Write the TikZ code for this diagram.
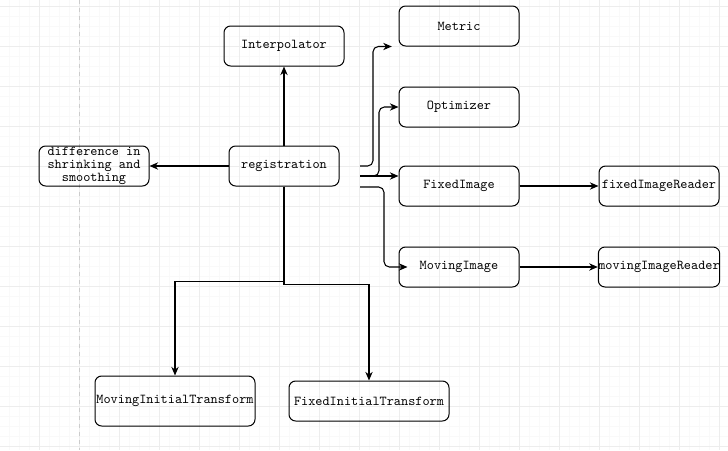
\documentclass[tikz,border=0pt]{standalone}
\usepackage{fontspec}
\usetikzlibrary{arrows.meta}
\tikzset{>={Stealth[length=6.5pt,width=5.5pt]}}
\tikzset{
  box/.style={draw, line width=0.75pt, rounded corners=5pt, minimum width=90pt,
    minimum height=30pt, inner sep=0pt, align=center,
    font=\ttfamily\fontsize{10.2pt}{9.5pt}\selectfont},
  link/.style={->, line width=0.8pt},
}

\begin{document}
\begin{tikzpicture}[x=0.75pt,y=-0.75pt]
  \useasboundingbox (0,0) rectangle (728,450);
  \fill[white] (0,0) rectangle (728,450);
  % grid
  \foreach \i in {-1,9,...,729} \draw[gray!5, line width=0.4pt] (\i,0) -- (\i,450);
  \foreach \j in {6,16,...,446} \draw[gray!5, line width=0.4pt] (0,\j) -- (728,\j);
  \foreach \i in {39,79,...,719} \draw[gray!14, line width=0.5pt] (\i,0) -- (\i,450);
  \foreach \j in {6,46,...,446} \draw[gray!14, line width=0.5pt] (0,\j) -- (728,\j);
  \draw[gray!40, dashed, line width=0.5pt] (79,0) -- (79,450);

  % nodes
  \node[box, minimum width=82.5pt] (reg) at (284,166) {registration};
  \node[box] (interp) at (284,46) {Interpolator};
  \node[box, minimum width=82.5pt] (diff) at (94,166) {difference in\\shrinking and\\smoothing};
  \node[box] (metric) at (459,26) {Metric};
  \node[box] (optim) at (459,107) {Optimizer};
  \node[box] (fixed) at (459,186) {FixedImage};
  \node[box] (moving) at (459,267) {MovingImage};
  \node[box] (fixedReader) at (659,186) {fixedImageReader};
  \node[box] (movingReader) at (659,267) {movingImageReader};
  \node[box, minimum width=120pt, minimum height=37.5pt] (movInit) at (175,401) {MovingInitialTransform};
  \node[box, minimum width=120pt] (fixInit) at (369,401) {FixedInitialTransform};

  \coordinate (o1) at (360,166);
  \coordinate (o2) at (360,176);
  \coordinate (o3) at (360,187);

  % connectors
  \draw[link] (reg.north) -- (interp.south);
  \draw[link] (reg.west) -- (diff.east);
  \draw[link, rounded corners=4pt] (o1) -- ++(13,0) |- ([xshift=-5pt]metric.south west);
  \draw[link, rounded corners=4pt] (o2) -- ++(19,0) |- (optim.west);
  \draw[link] (o2) -- (o2 -| fixed.west);
  \draw[link, rounded corners=4pt] (o3) -- ++(24,0) |- ([xshift=6.75pt]moving.west);
  \draw[link] (fixed.east) -- (fixedReader.west);
  \draw[link] (moving.east) -- (movingReader.west);
  \draw[link] (reg.south) -- ++(0,95) -| (movInit.north);
  \draw[link] (reg.south) -- ++(0,98) -| (fixInit.north);
\end{tikzpicture}
\end{document}
